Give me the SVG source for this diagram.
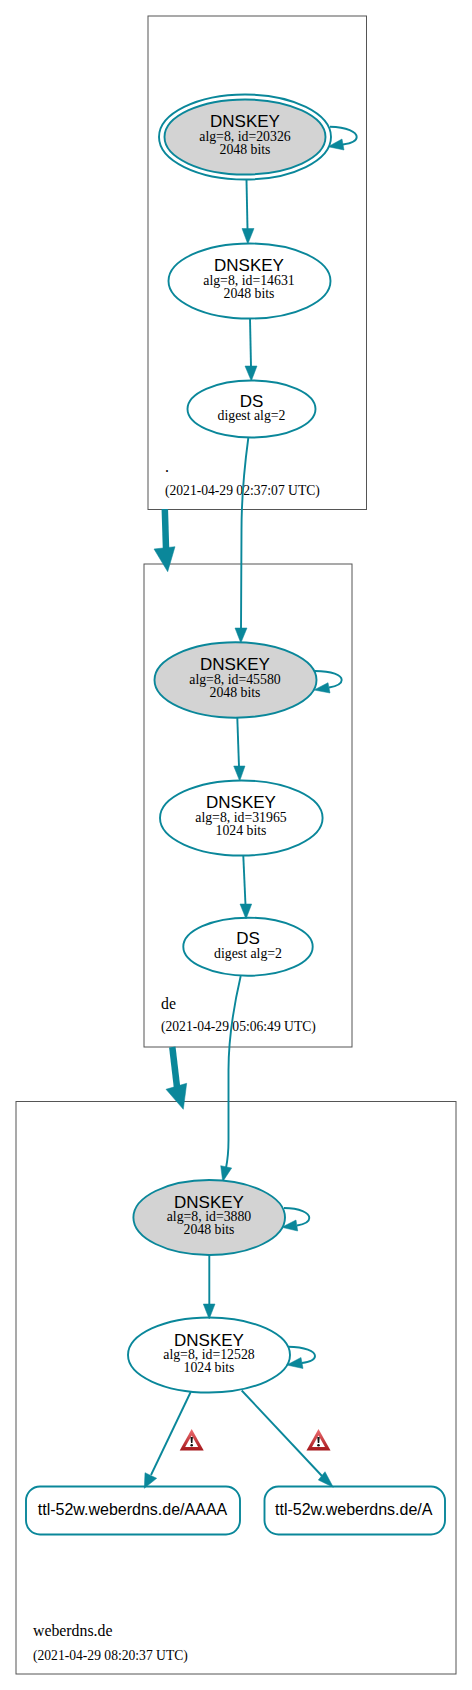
<svg xmlns="http://www.w3.org/2000/svg" width="472" height="1690" viewBox="0 0 472 1690">
<style>
.zone{fill:#fff;stroke:#555;stroke-width:1}
.k{fill:none;stroke:#0a879a;stroke-width:1.9}
.g{fill:#d3d3d3}
.e{fill:none;stroke:#0a879a;stroke-width:1.9}
.h{fill:#0a879a;stroke:#0a879a;stroke-width:.5}
.b{fill:none;stroke:#0a879a;stroke-width:6.500}
.a{font-family:"Liberation Sans",Arial,sans-serif;font-size:17px;text-anchor:middle;fill:#000}
.r{font-family:"Liberation Sans",Arial,sans-serif;font-size:16px;text-anchor:middle;fill:#000}
.t{font-family:"Liberation Serif","Times New Roman",serif;font-size:13.800px;text-anchor:middle;fill:#000}
.l{font-family:"Liberation Serif","Times New Roman",serif;font-size:15.800px;fill:#000}
.d{font-family:"Liberation Serif","Times New Roman",serif;font-size:13.600px;fill:#000}
</style>
<defs>
<linearGradient id="w" x1="0" y1="0" x2="0" y2="1"><stop offset="0" stop-color="#ee6c70"/><stop offset="1" stop-color="#a5181c"/></linearGradient>
<g id="warn"><path d="M0 -11 L12 10.500 H-12 Z" fill="url(#w)"/><path d="M0 -4.500 L6.500 7 H-6.500 Z" fill="#fff"/><path d="M-1.200 -3 H1.200 L.7 3 H-.7 Z" fill="#111"/><circle cx="0" cy="5.200" r="1.300" fill="#111"/></g>
</defs>
<rect width="472" height="1690" fill="#fff"/>
<g id="zone-root"><rect class="zone" x="148" y="16" width="218.500" height="493.500"/><text class="l" x="165" y="472">.</text><text class="d" x="165" y="495">(2021-04-29 02:37:07 UTC)</text></g>
<g id="zone-de"><rect class="zone" x="144" y="564" width="208" height="483"/><text class="l" x="161" y="1008.500">de</text><text class="d" x="161" y="1031">(2021-04-29 05:06:49 UTC)</text></g>
<g id="zone-weberdns"><rect class="zone" x="16" y="1101.500" width="440" height="572.500"/><text class="l" x="33" y="1636">weberdns.de</text><text class="d" x="33" y="1660">(2021-04-29 08:20:37 UTC)</text></g>
<g id="connectors">
<path class="b" d="M164.800 509 L166 548"/><path class="h" d="M154 549 L175 546.700 L167.700 571.700 Z"/>
<path class="b" d="M172.300 1047 L177 1087"/><path class="h" d="M166 1089.300 L186.700 1083.300 L183.300 1109.300 Z"/>
<path class="e" d="M246.500 180 L247.500 229"/><path class="h" d="M242 228.500 L254 228.500 L247.800 244 Z"/>
<path class="e" d="M250 318.500 L251 367"/><path class="h" d="M245 366 L257 366 L251.300 381 Z"/>
<path class="e" d="M248.300 438 C244 470 241.500 495 241.500 530 L241 630"/><path class="h" d="M235 628 L247 628 L240.800 643 Z"/>
<path class="e" d="M237.300 717.700 L239 767"/><path class="h" d="M233.700 766 L245 766 L239.700 781 Z"/>
<path class="e" d="M243.300 856 L245.500 905"/><path class="h" d="M240 904 L251.700 904 L246 919 Z"/>
<path class="e" d="M240.700 976 C234 1005 228.500 1035 228.500 1070 L228.500 1140 C228.500 1150 228 1158 226 1168"/><path class="h" d="M220.700 1165.700 L231.700 1168 L222.700 1181.700 Z"/>
<path class="e" d="M209.300 1255 L209.300 1305"/><path class="h" d="M203.300 1304 L215 1304 L209.200 1319 Z"/>
<path class="e" d="M190.700 1392 L151 1475"/><path class="h" d="M145 1472.700 L156.700 1478.300 L144.300 1488.300 Z"/>
<path class="e" d="M241.700 1390.500 L322 1476"/><path class="h" d="M318.300 1480 L325 1471.700 L333.300 1487.300 Z"/>
<path class="e" d="M330 126.700 C347 127 356.700 132 356.700 137 C356.700 141 350 143.500 343 144.500"/><path class="h" d="M328 146.700 L342 139 L344 150 Z"/>
<path class="e" d="M315 671 C332 671 341.700 675 341.700 680 C341.700 684 335 686.500 329 687.500"/><path class="h" d="M314 690 L328 682.700 L330 693 Z"/>
<path class="e" d="M284 1208 C300 1208 309.300 1213 309.300 1218 C309.300 1222 303 1224.500 297 1225.500"/><path class="h" d="M281.700 1227.300 L296 1220 L297.700 1231 Z"/>
<path class="e" d="M288 1346.700 C305 1347 315 1351 315 1356 C315 1360 309 1362 302 1363"/><path class="h" d="M286.700 1365 L301 1357.500 L303 1368.500 Z"/>
</g>
<g id="ksk-20326"><ellipse class="k" cx="245" cy="137" rx="86" ry="42.500"/><ellipse class="k g" cx="245" cy="137" rx="80.500" ry="37.500"/><text class="a" x="245" y="127">DNSKEY</text><text class="t" x="245" y="141">alg=8, id=20326</text><text class="t" x="245" y="154.300">2048 bits</text></g>
<g id="zsk-14631"><ellipse class="k" cx="249.500" cy="281" rx="81" ry="37.500"/><text class="a" x="249" y="271">DNSKEY</text><text class="t" x="249" y="284.500">alg=8, id=14631</text><text class="t" x="249" y="297.500">2048 bits</text></g>
<g id="ds-root"><ellipse class="k" cx="251.500" cy="409" rx="64" ry="28.500"/><text class="a" x="251.500" y="406.500">DS</text><text class="t" x="251.500" y="420">digest alg=2</text></g>
<g id="ksk-45580"><ellipse class="k g" cx="235.500" cy="680" rx="81" ry="37.700"/><text class="a" x="235" y="670">DNSKEY</text><text class="t" x="235" y="683.500">alg=8, id=45580</text><text class="t" x="235" y="696.500">2048 bits</text></g>
<g id="zsk-31965"><ellipse class="k" cx="241.300" cy="818" rx="81.300" ry="37.500"/><text class="a" x="241" y="808.300">DNSKEY</text><text class="t" x="241" y="821.700">alg=8, id=31965</text><text class="t" x="241" y="834.500">1024 bits</text></g>
<g id="ds-de"><ellipse class="k" cx="248" cy="946.700" rx="64.700" ry="29"/><text class="a" x="248" y="944">DS</text><text class="t" x="248" y="957.500">digest alg=2</text></g>
<g id="ksk-3880"><ellipse class="k g" cx="209.200" cy="1217.500" rx="75.800" ry="37.500"/><text class="a" x="209" y="1207.700">DNSKEY</text><text class="t" x="209" y="1221">alg=8, id=3880</text><text class="t" x="209" y="1234">2048 bits</text></g>
<g id="zsk-12528"><ellipse class="k" cx="209" cy="1355" rx="81" ry="37.500"/><text class="a" x="209" y="1345.700">DNSKEY</text><text class="t" x="209" y="1359">alg=8, id=12528</text><text class="t" x="209" y="1372">1024 bits</text></g>
<g id="rr-aaaa"><rect class="k" x="26" y="1486.500" width="214" height="48" rx="14"/><text class="r" x="132.500" y="1515">ttl-52w.weberdns.de/AAAA</text></g>
<g id="rr-a"><rect class="k" x="264.500" y="1486.500" width="180.500" height="48" rx="14"/><text class="r" x="353.700" y="1515">ttl-52w.weberdns.de/A</text></g>
<g id="warn-aaaa"><use href="#warn" x="191.700" y="1440"/></g>
<g id="warn-a"><use href="#warn" x="318.500" y="1440"/></g>
</svg>
